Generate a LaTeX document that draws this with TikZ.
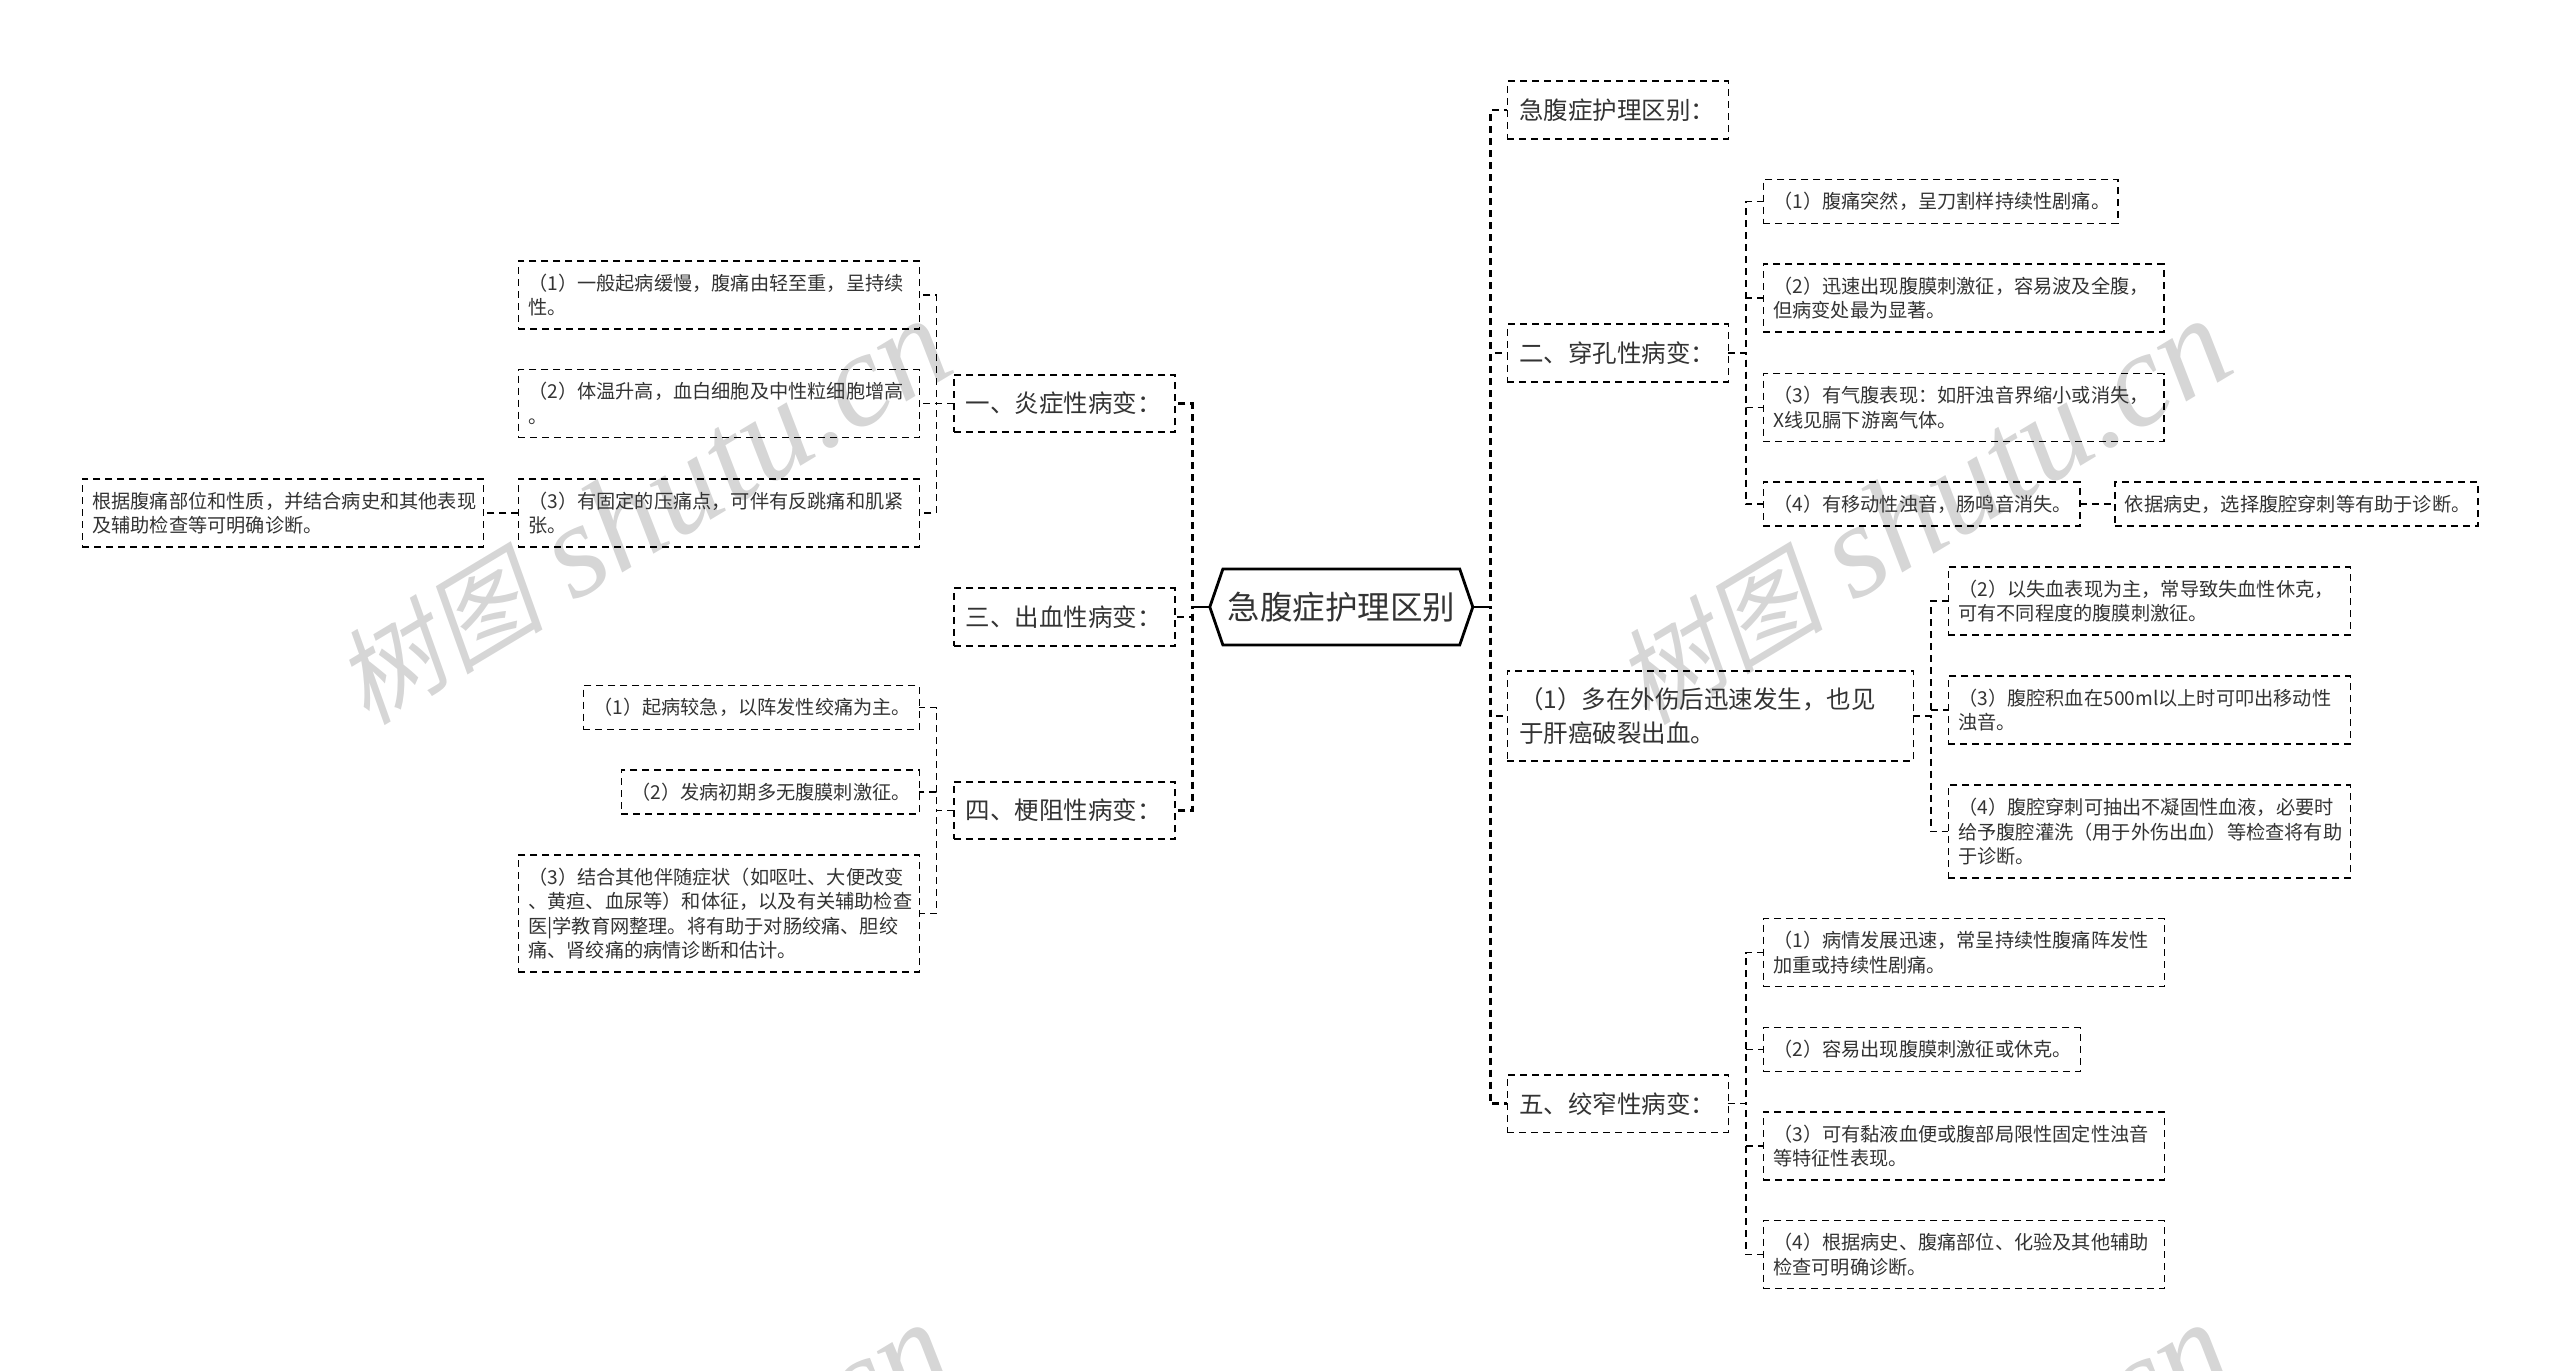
\documentclass[tikz,border=0pt]{standalone}
\usepackage{fontspec}
\setmainfont{Noto Sans CJK SC}
\newfontfamily\markcjk[FakeSlant=0.2]{Noto Sans CJK SC}
\newfontfamily\markserif{Liberation Serif}
\usetikzlibrary{positioning,shapes.symbols}
\definecolor{inkgray}{HTML}{333333}
\definecolor{markgray}{HTML}{D6D6D6}
\tikzstyle{root}=[draw=black,line width=2.8pt,signal,signal to=east and west,signal pointer angle=142,minimum width=263pt,minimum height=76pt,inner sep=0pt,outer sep=0pt,text=inkgray,font=\fontsize{32.5}{38}\selectfont]
\tikzstyle{branch}=[draw=black,line width=1.6pt,dash pattern=on 7pt off 5pt,inner xsep=12pt,inner ysep=0pt,outer sep=0pt,align=left,text=inkgray,font=\fontsize{24.5}{34}\selectfont,minimum height=57.5pt,text width=#1]
\tikzstyle{leaf}=[draw=black,line width=1.5pt,dash pattern=on 7pt off 5pt,inner xsep=10pt,inner ysep=0pt,outer sep=0pt,align=left,text=inkgray,font=\fontsize{19.2}{24.6}\selectfont,minimum height=68pt,text width=#1]
\tikzstyle{watermark}=[text=markgray,rotate=31,font=\fontsize{134}{134}\selectfont]
\tikzstyle{every edge}=[draw=black]
\tikzstyle{forkright}=[to path={(\tikztostart.east) -- ++(17.5,0) |- (\tikztotarget.west)}]
\tikzstyle{forkleft}=[to path={(\tikztostart.west) -- ++(-17.5,0) |- (\tikztotarget.east)}]
\tikzstyle{trunk}=[line width=2.8pt,dash pattern=on 7pt off 5pt]
\tikzstyle{twig}=[line width=1.5pt,dash pattern=on 7pt off 5pt]
\begin{document}
\begin{tikzpicture}[x=1pt,y=-1pt]
  \path[use as bounding box,clip] (0,0) rectangle (2560,1371);

  \foreach \mx/\my/\mname in {642/512/wa,1922/512/wb,642/1516/wc,1922/1516/wd}
    \node[watermark] (\mname) at (\mx,\my) {{\markcjk\fontsize{105}{105}\selectfont 树图} {\markserif\itshape shutu.cn}};

  \node[root]                 (main) at (1341.3,607) {急腹症护理区别};

  \node[branch=197pt]         (ji)  [right=34.5pt of main.east,yshift=497pt]  {急腹症护理区别：};
  \node[branch=197pt]         (er)  [right=34.5pt of main.east,yshift=254pt]  {二、穿孔性病变：};
  \node[branch=382pt,minimum height=90.5pt] (chu) [right=34.5pt of main.east,yshift=-109pt]
    {（1）多在外伤后迅速发生，也见\\于肝癌破裂出血。};
  \node[branch=197pt]         (wu)  [right=34.5pt of main.east,yshift=-496.6pt] {五、绞窄性病变：};

  \node[branch=197pt]         (yan) [left=35pt of main.west,yshift=203.5pt]  {一、炎症性病变：};
  \node[branch=197pt]         (san) [left=35pt of main.west,yshift=-10pt]    {三、出血性病变：};
  \node[branch=197pt]         (si)  [left=35pt of main.west,yshift=-203.5pt] {四、梗阻性病变：};

  \node[leaf=381pt]           (yan1) [left=34.5pt of yan.west,yshift=108.5pt]
    {（1）一般起病缓慢，腹痛由轻至重，呈持续\\性。};
  \node[leaf=381pt]           (yan2) [left=34.5pt of yan.west]
    {（2）体温升高，血白细胞及中性粒细胞增高\\。};
  \node[leaf=381pt]           (yan3) [left=34.5pt of yan.west,yshift=-109.5pt]
    {（3）有固定的压痛点，可伴有反跳痛和肌紧\\张。};
  \node[leaf=381pt]           (yan4) [left=35pt of yan3.west]
    {根据腹痛部位和性质，并结合病史和其他表现\\及辅助检查等可明确诊断。};

  \node[leaf=316pt,minimum height=44pt] (si1) [left=34.5pt of si.west,yshift=103pt]
    {（1）起病较急，以阵发性绞痛为主。};
  \node[leaf=278pt,minimum height=44pt] (si2) [left=34.5pt of si.west,yshift=18.5pt]
    {（2）发病初期多无腹膜刺激征。};
  \node[leaf=381pt,minimum height=117pt] (si3) [left=34.5pt of si.west,yshift=-103pt]
    {（3）结合其他伴随症状（如呕吐、大便改变\\、黄疸、血尿等）和体征，以及有关辅助检查\\医|学教育网整理。将有助于对肠绞痛、胆绞\\痛、肾绞痛的病情诊断和估计。};

  \node[leaf=334.5pt,minimum height=44pt] (er1) [right=35pt of er.east,yshift=151.4pt]
    {（1）腹痛突然，呈刀割样持续性剧痛。};
  \node[leaf=380.5pt]         (er2) [right=35pt of er.east,yshift=55pt]
    {（2）迅速出现腹膜刺激征，容易波及全腹，\\但病变处最为显著。};
  \node[leaf=380.5pt]         (er3) [right=35pt of er.east,yshift=-54.6pt]
    {（3）有气腹表现：如肝浊音界缩小或消失，\\X线见膈下游离气体。};
  \node[leaf=296.5pt,minimum height=44pt] (er4) [right=35pt of er.east,yshift=-151pt]
    {（4）有移动性浊音，肠鸣音消失。};
  \node[leaf=343pt,minimum height=44pt]   (er5) [right=35pt of er4.east]
    {依据病史，选择腹腔穿刺等有助于诊断。};

  \node[leaf=382pt]           (chu2) [right=35pt of chu.east,yshift=115pt]
    {（2）以失血表现为主，常导致失血性休克，\\可有不同程度的腹膜刺激征。};
  \node[leaf=382pt]           (chu3) [right=35pt of chu.east,yshift=6pt]
    {（3）腹腔积血在500ml以上时可叩出移动性\\浊音。};
  \node[leaf=382pt,minimum height=93pt] (chu4) [right=35pt of chu.east,yshift=-115.6pt]
    {（4）腹腔穿刺可抽出不凝固性血液，必要时\\给予腹腔灌洗（用于外伤出血）等检查将有助\\于诊断。};

  \node[leaf=381pt]           (wu1) [right=35pt of wu.east,yshift=151pt]
    {（1）病情发展迅速，常呈持续性腹痛阵发性\\加重或持续性剧痛。};
  \node[leaf=297pt,minimum height=44pt] (wu2) [right=35pt of wu.east,yshift=54pt]
    {（2）容易出现腹膜刺激征或休克。};
  \node[leaf=381pt]           (wu3) [right=35pt of wu.east,yshift=-42.4pt]
    {（3）可有黏液血便或腹部局限性固定性浊音\\等特征性表现。};
  \node[leaf=381pt]           (wu4) [right=35pt of wu.east,yshift=-151pt]
    {（4）根据病史、腹痛部位、化验及其他辅助\\检查可明确诊断。};

  \path[trunk,forkright] (main) edge (ji)
        edge (er)
        edge (chu)
        edge (wu);
  \path[trunk,forkleft] (main) edge (yan)
        edge (san)
        edge (si);
  \draw[line width=2.8pt] (main.east) -- ++(16,0);
  \draw[line width=2.8pt] (main.west) -- ++(-16,0);

  \path[twig,forkright] (er) edge (er1)
        edge (er2)
        edge (er3)
        edge (er4)
    (er4) edge (er5)
    (chu) edge (chu2)
        edge (chu3)
        edge (chu4)
    (wu) edge (wu1)
        edge (wu2)
        edge (wu3)
        edge (wu4);
  \path[twig,forkleft] (yan) edge (yan1)
        edge (yan2)
        edge (yan3)
    (yan3) edge (yan4)
    (si) edge (si1)
        edge (si2)
        edge (si3);
\end{tikzpicture}
\end{document}
